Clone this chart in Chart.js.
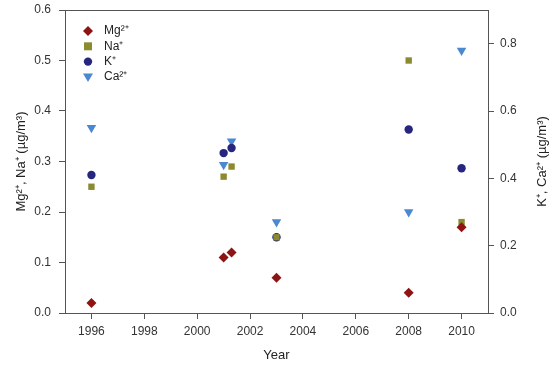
<!DOCTYPE html>
<html>
<head>
<meta charset="utf-8">
<script src="https://cdn.jsdelivr.net/npm/chart.js@4/dist/chart.umd.min.js"></script>
<style>
  body { margin: 0; background: #fff; }
</style>
</head>
<body>
<canvas id="c" width="553" height="367"></canvas>
<script>
// values
var years = [1996, 2001, 2001.3, 2003, 2008, 2010];
var mg = [0.02, 0.11, 0.12, 0.07, 0.04, 0.17];
var na = [0.25, 0.27, 0.29, 0.15, 0.50, 0.18];
var k  = [0.41, 0.475, 0.49, 0.225, 0.545, 0.43];
var ca = [0.55, 0.44, 0.51, 0.27, 0.30, 0.78];

var xTicks = [1996, 1998, 2000, 2002, 2004, 2006, 2008, 2010];
var leftTicks = [0, 0.1, 0.2, 0.3, 0.4, 0.5, 0.6];
var rightTicks = [0, 0.2, 0.4, 0.6, 0.8];

var names = ["Mg²⁺", "Na⁺", "K⁺", "Ca²⁺"];
var colors = ["#8e1414", "#8a8a2e", "#26267e", "#4a88d2"];

function pts(vals) {
  return years.map(function (y, i) { return { x: y, y: vals[i] }; });
}

var axisColor = "#555";
var tickFont = { family: "Liberation Sans", size: 12 };

// marker drawing shared by the legend
function marker(ctx, kind, x, y, col) {
  ctx.fillStyle = col;
  ctx.beginPath();
  if (kind == 0) {
    ctx.moveTo(x, y - 5); ctx.lineTo(x + 5, y); ctx.lineTo(x, y + 5); ctx.lineTo(x - 5, y);
  } else if (kind == 1) {
    ctx.rect(x - 4, y - 4, 8, 8);
  } else if (kind == 2) {
    ctx.arc(x, y, 4.2, 0, Math.PI * 2);
  } else {
    ctx.moveTo(x - 5, y - 3.5); ctx.lineTo(x + 5, y - 3.5); ctx.lineTo(x, y + 5);
  }
  ctx.closePath();
  ctx.fill();
}

var extras = {
  id: "extras",
  afterDraw: function (chart) {
    var ctx = chart.ctx, a = chart.chartArea;
    ctx.save();
    // top frame line
    ctx.strokeStyle = axisColor;
    ctx.lineWidth = 1;
    ctx.beginPath();
    ctx.moveTo(a.left, a.top + 0.5);
    ctx.lineTo(a.right, a.top + 0.5);
    ctx.stroke();

    // legend inside plot
    ctx.font = "12px 'Liberation Sans'";
    ctx.textBaseline = "middle";
    for (var i = 0; i < names.length; i++) {
      var y = 31 + i * 15.3;
      marker(ctx, i, 88, y, colors[i]);
      ctx.fillStyle = "#222";
      ctx.fillText(names[i], 104, y);
    }

    // right axis title, reads bottom to top
    ctx.translate(542, (a.top + a.bottom) / 2);
    ctx.rotate(-Math.PI / 2);
    ctx.textAlign = "center";
    ctx.font = "13px 'Liberation Sans'";
    ctx.fillStyle = "#222";
    ctx.fillText("K⁺, Ca²⁺ (µg/m³)", 0, 0);
    ctx.restore();
  }
};

function fitY(s) {
  s.width = 65;
  s.paddingTop = 0;
  s.paddingBottom = 0;
}

var chart = new Chart("c", {
  type: "scatter",
  data: {
    datasets: [
      { label: names[0], data: pts(mg), yAxisID: "y", pointStyle: "rectRot", radius: 5, backgroundColor: colors[0], borderColor: colors[0], borderWidth: 0 },
      { label: names[1], data: pts(na), yAxisID: "y", pointStyle: "rect", radius: 4.5, backgroundColor: colors[1], borderColor: colors[1], borderWidth: 0 },
      { label: names[2], data: pts(k), yAxisID: "y2", pointStyle: "circle", radius: 4.2, backgroundColor: colors[2], borderColor: colors[2], borderWidth: 0 },
      { label: names[3], data: pts(ca), yAxisID: "y2", pointStyle: "triangle", rotation: 180, radius: 5.5, backgroundColor: colors[3], borderColor: colors[3], borderWidth: 0 }
    ]
  },
  options: {
    responsive: false,
    animation: false,
    layout: { padding: { top: 10, left: 0, right: 0, bottom: 0 } },
    plugins: { legend: { display: false }, tooltip: { enabled: false } },
    scales: {
      x: {
        type: "linear", min: 1995, max: 2011,
        afterBuildTicks: function (s) { s.ticks = xTicks.map(function (v) { return { value: v }; }); },
        afterFit: function (s) { s.height = 54; s.paddingLeft = 0; s.paddingRight = 0; },
        grid: { drawOnChartArea: false, drawTicks: true, tickLength: 6, color: axisColor },
        border: { color: axisColor },
        ticks: { color: "#333", font: tickFont, padding: 5, maxRotation: 0, callback: function (v) { return String(v); } },
        title: { display: true, text: "Year", color: "#222", font: { family: "Liberation Sans", size: 13 }, padding: { top: 6 } }
      },
      y: {
        position: "left", min: 0, max: 0.6,
        afterBuildTicks: function (s) { s.ticks = leftTicks.map(function (v) { return { value: v }; }); },
        afterFit: fitY,
        grid: { drawOnChartArea: false, drawTicks: true, tickLength: 6, color: axisColor },
        border: { color: axisColor },
        ticks: { color: "#333", font: tickFont, padding: 8, callback: function (v) { return v.toFixed(1); } },
        title: { display: true, text: "Mg²⁺, Na⁺ (µg/m³)", color: "#222", font: { family: "Liberation Sans", size: 13 }, padding: { top: 14, bottom: 2 } }
      },
      y2: {
        position: "right", min: 0, max: 0.9,
        afterBuildTicks: function (s) { s.ticks = rightTicks.map(function (v) { return { value: v }; }); },
        afterFit: fitY,
        grid: { drawOnChartArea: false, drawTicks: true, tickLength: 6, color: axisColor },
        border: { color: axisColor },
        ticks: { color: "#333", font: tickFont, padding: 6, callback: function (v) { return v.toFixed(1); } }
      }
    }
  },
  plugins: [extras]
});
</script>
</body>
</html>
